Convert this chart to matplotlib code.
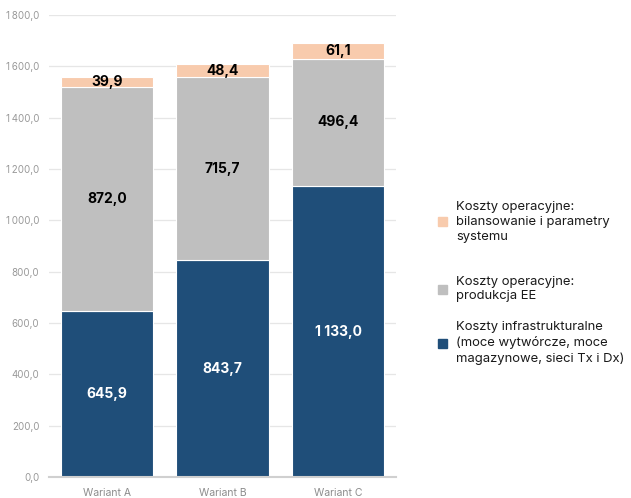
"""Stacked cost bars for three variants."""

import matplotlib

matplotlib.use("Agg")
from matplotlib import pyplot as plt  # noqa: E402
from matplotlib.patches import Rectangle  # noqa: E402

plt.rcParams["font.family"] = ["Inter", "DejaVu Sans"]

variants = ["Wariant A", "Wariant B", "Wariant C"]
infra = [645.9, 843.7, 1133.0]
production = [872.0, 715.7, 496.4]
balancing = [39.9, 48.4, 61.1]

series_names = [
    "Koszty infrastrukturalne\n(moce wytwórcze, moce\nmagazynowe, sieci Tx i Dx)",
    "Koszty operacyjne:\nprodukcja EE",
    "Koszty operacyjne:\nbilansowanie i parametry\nsystemu",
]
colors = ["#1F4E79", "#BFBFBF", "#F8CBAD"]
label_colors = ["white", "black", "black"]
y_ticks = list(range(0, 1801, 200))

W, H = 631, 498


def fmt(value, sep=" "):
    text = f"{value:,.1f}"
    return text.replace(",", sep).replace(".", ",")


fig = plt.figure(figsize=(W / 100, H / 100), dpi=100)
ax = fig.add_axes([49 / W, 21 / H, 347 / W, 462 / H])

x = list(range(len(variants)))
bottom = [0.0] * len(variants)
for values, color, txt_color in zip([infra, production, balancing], colors, label_colors):
    ax.bar(x, values, width=0.8, bottom=bottom, color=color,
           edgecolor="white", linewidth=0.8, zorder=3)
    for i, v in enumerate(values):
        ax.text(x[i], bottom[i] + v / 2, fmt(v), ha="center", va="center",
                fontsize=10, fontweight="bold", color=txt_color, zorder=4)
    bottom = [b + v for b, v in zip(bottom, values)]

ax.set_xlim(-0.5, 2.5)
ax.set_ylim(0, 1800)
ax.set_yticks(y_ticks)
ax.set_yticklabels([fmt(t, "\u2009") for t in y_ticks], fontsize=7, color="#999999")
ax.set_xticks(x)
ax.set_xticklabels(variants, fontsize=7.5, color="#8C8C8C")
ax.tick_params(axis="both", length=0, pad=7)
ax.tick_params(axis="x", pad=8)
ax.grid(axis="y", color="#E6E6E6", linewidth=0.9, zorder=0)
for side in ["top", "right", "left"]:
    ax.spines[side].set_visible(False)
ax.spines["bottom"].set_color("#D0D0D0")
ax.spines["bottom"].set_linewidth(1.5)
ax.spines["bottom"].set_zorder(5)

# legend drawn by hand (entries are unevenly spaced in the original)
legend_y = [343, 289, 222]
for name, color, y in zip(series_names, colors, legend_y):
    fig.patches.append(Rectangle((438 / W, (H - y - 4.5) / H), 9 / W, 9 / H,
                                 transform=fig.transFigure, color=color))
    fig.text(456 / W, (H - y) / H, name, ha="left", va="center",
             fontsize=9.4, color="#1A1A1A", linespacing=1.3)

fig.savefig("out.png", dpi=100)
